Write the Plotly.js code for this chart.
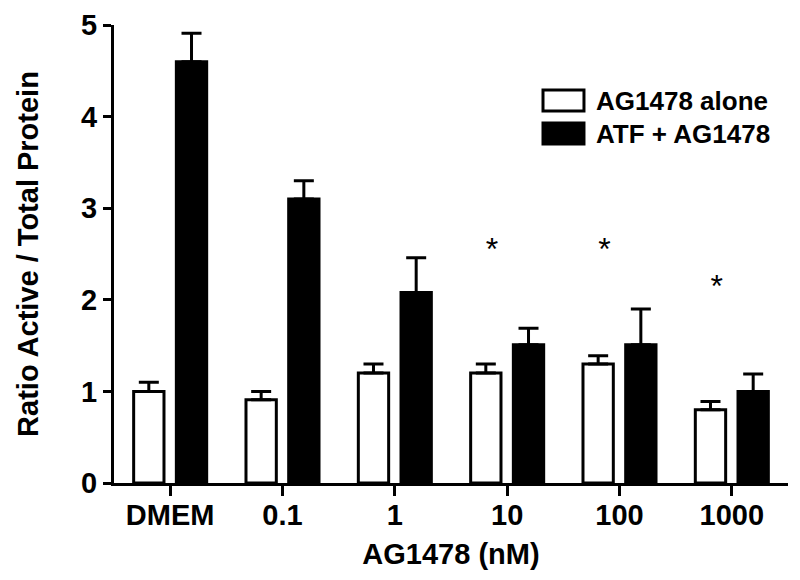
<!DOCTYPE html>
<html>
<head>
<meta charset="utf-8">
<script src="https://cdn.plot.ly/plotly-3.0.1.min.js"></script>
<style>
  html, body { margin: 0; padding: 0; background: #fff; }
  #chart { width: 800px; height: 580px; }
</style>
</head>
<body>
<div id="chart"></div>
<script>
const doses = ['DMEM', '0.1', '1', '10', '100', '1000'];
const aloneMean = [1.0, 0.91, 1.2, 1.2, 1.3, 0.8];
const aloneSem = [0.1, 0.09, 0.1, 0.1, 0.09, 0.09];
const atfMean = [4.6, 3.1, 2.08, 1.51, 1.51, 1.0];
const atfSem = [0.31, 0.2, 0.38, 0.18, 0.39, 0.19];
const starDoses = ['10', '100', '1000'];
const starLevels = [2.52, 2.52, 2.12];
const seriesNames = ['AG1478 alone', 'ATF + AG1478'];

const fam = 'Arial, "Liberation Sans", sans-serif';
const boldFont = { family: fam, color: '#000', weight: 'bold' };

const zeros = doses.map(() => 0);

function errBars(sem) {
  return {
    type: 'data',
    symmetric: false,
    array: sem,
    arrayminus: zeros,
    color: '#000',
    thickness: 3,
    width: 10,
  };
}

const traces = [
  {
    type: 'bar',
    name: seriesNames[0],
    x: doses,
    y: aloneMean,
    width: 0.27,
    offset: -0.325,
    marker: { color: '#fff', line: { color: '#000', width: 3 } },
    error_y: errBars(aloneSem),
  },
  {
    type: 'bar',
    name: seriesNames[1],
    x: doses,
    y: atfMean,
    width: 0.27,
    offset: 0.055,
    marker: { color: '#000', line: { color: '#000', width: 3 } },
    error_y: errBars(atfSem),
  },
  {
    type: 'scatter',
    mode: 'text',
    x: starDoses,
    y: starLevels,
    text: starDoses.map(() => '*\u00a0'),
    textposition: 'middle left',
    textfont: { family: fam, size: 32, color: '#000' },
    cliponaxis: false,
    hoverinfo: 'skip',
    showlegend: false,
  },
];

// legend drawn by hand so the key boxes match the original size
const legendFills = ['#fff', '#000'];
const legendShapes = legendFills.map((fill, i) => ({
  type: 'rect',
  xref: 'paper',
  yref: 'paper',
  x0: 0.6365,
  x1: 0.6973,
  y0: 0.812 - i * 0.072,
  y1: 0.858 - i * 0.072,
  fillcolor: fill,
  line: { color: '#000', width: 3 },
}));
const legendLabels = seriesNames.map((name, i) => ({
  xref: 'paper',
  yref: 'paper',
  x: 0.712,
  y: 0.835 - i * 0.072,
  xanchor: 'left',
  yanchor: 'middle',
  text: name,
  showarrow: false,
  font: Object.assign({ size: 26 }, boldFont),
}));

const layout = {
  width: 800,
  height: 580,
  margin: { l: 114, r: 12, t: 25, b: 97 },
  paper_bgcolor: '#fff',
  plot_bgcolor: '#fff',
  barmode: 'overlay',
  showlegend: false,
  xaxis: {
    type: 'category',
    range: [-0.5, 5.5],
    showline: true,
    linecolor: '#000',
    linewidth: 3,
    ticks: 'outside',
    ticklen: 10,
    tickwidth: 3,
    tickcolor: '#000',
    tickfont: Object.assign({ size: 29 }, boldFont),
    ticklabelstandoff: -6,
    showgrid: false,
    zeroline: false,
    title: {
      text: 'AG1478 (nM)',
      font: Object.assign({ size: 29 }, boldFont),
      standoff: 14,
    },
  },
  yaxis: {
    range: [0, 5],
    tickvals: [0, 1, 2, 3, 4, 5],
    showline: true,
    linecolor: '#000',
    linewidth: 3,
    ticks: 'outside',
    ticklen: 8,
    tickwidth: 3,
    tickcolor: '#000',
    tickfont: Object.assign({ size: 29 }, boldFont),
    showgrid: false,
    zeroline: false,
    title: {
      text: 'Ratio Active / Total Protein',
      font: Object.assign({ size: 29 }, boldFont),
      standoff: 34,
    },
  },
  shapes: legendShapes,
  annotations: legendLabels,
};

Plotly.newPlot('chart', traces, layout, { displayModeBar: false, staticPlot: true });
</script>
</body>
</html>
